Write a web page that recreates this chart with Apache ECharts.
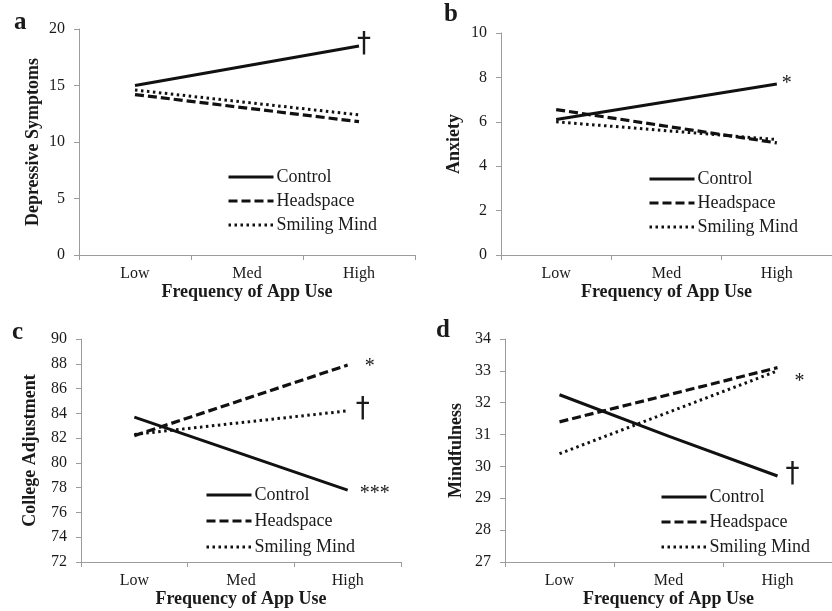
<!DOCTYPE html>
<html>
<head>
<meta charset="utf-8">
<script src="https://cdn.jsdelivr.net/npm/echarts@6/dist/echarts.min.js"></script>
<style>
  html, body { margin: 0; padding: 0; background: #fff; }
  #chart { width: 832px; height: 611px; }
</style>
</head>
<body>
<div id="chart"></div>
<script>
// ---------- data ----------
const categories = ['Low', 'Med', 'High'];
const seriesNames = ['Control', 'Headspace', 'Smiling Mind'];

const panelLetters = ['a', 'b', 'c', 'd'];
const yTitles = ['Depressive Symptoms', 'Anxiety', 'College Adjustment', 'Mindfulness'];
const xTitle = 'Frequency of App Use';

// y-axis ranges [min, max, interval]
const yRangeA = [0, 20, 5];
const yRangeB = [0, 10, 2];
const yRangeC = [72, 90, 2];
const yRangeD = [27, 34, 1];

// values: Control, Headspace, Smiling Mind (Low, Med, High)
const controlA = [15.0, 16.75, 18.5];
const headspaceA = [14.2, 13.0, 11.8];
const smilingA = [14.6, 13.5, 12.4];

const controlB = [6.1, 6.9, 7.7];
const headspaceB = [6.55, 5.8, 5.05];
const smilingB = [6.0, 5.6, 5.2];

const controlC = [83.7, 80.75, 77.8];
const headspaceC = [82.2, 85.05, 87.9];
const smilingC = [82.3, 83.25, 84.2];

const controlD = [32.25, 30.95, 29.7];
const headspaceD = [31.4, 32.25, 33.1];
const smilingD = [30.4, 31.7, 33.0];

// significance marks at the High end (Control, Headspace, Smiling Mind)
const notesA = ['†', '', ''];
const notesB = ['*', '', ''];
const notesC = ['***', '*', '†'];
const notesD = ['†', '', '*'];

// ---------- layout / style ----------
const FONT = '"Liberation Serif", "Times New Roman", serif';
const INK = '#1a1a1a';
const AXIS = '#9c9c9c';

const DAG = { size: 28, weight: 'normal', font: '"DejaVu Sans", sans-serif' };
const panels = [
  { grid: { left: 79, top: 29, width: 336, height: 226 }, range: yRangeA, data: [controlA, headspaceA, smilingA], notes: notesA,
    nameGapY: 37, letter: { left: 14, top: 10 }, legend: { left: 227, top: 168, gap: 6 },
    noteStyle: [Object.assign({ offset: [-2, -1] }, DAG), {}, {}] },
  { grid: { left: 501, top: 33, width: 338, height: 222 }, range: yRangeB, data: [controlB, headspaceB, smilingB], notes: notesB,
    nameGapY: 38, letter: { left: 444, top: 2 }, legend: { left: 648, top: 170, gap: 6 },
    noteStyle: [{ offset: [5, 0], size: 20 }, {}, {}] },
  { grid: { left: 81, top: 339, width: 320, height: 223 }, range: yRangeC, data: [controlC, headspaceC, smilingC], notes: notesC,
    nameGapY: 42, letter: { left: 12, top: 320 }, legend: { left: 205, top: 486, gap: 8 },
    noteStyle: [{ offset: [12, 4], size: 20 }, { offset: [17, 2], size: 20 }, Object.assign({ offset: [8, -1] }, DAG)] },
  { grid: { left: 505, top: 339, width: 340, height: 223 }, range: yRangeD, data: [controlD, headspaceD, smilingD], notes: notesD,
    nameGapY: 40, letter: { left: 436, top: 318 }, legend: { left: 660, top: 488, gap: 7 },
    noteStyle: [Object.assign({ offset: [8, -1] }, DAG), {}, { offset: [17, 11], size: 20 }] }
];

const lineStyles = [
  { type: 'solid', width: 3 },
  { type: [9, 4], width: 3.2 },
  { type: [2.5, 3.5], width: 3 }
];

const grids = [], xAxes = [], yAxes = [], series = [], titles = [], legends = [];

panels.forEach((p, i) => {
  grids.push(Object.assign({ containLabel: false }, p.grid));
  xAxes.push({
    type: 'category', gridIndex: i, data: categories, boundaryGap: true,
    axisLine: { lineStyle: { color: AXIS, width: 1 } },
    axisTick: { show: true, length: 5, lineStyle: { color: AXIS } },
    axisLabel: { color: INK, fontFamily: FONT, fontSize: 16, margin: 11 },
    name: xTitle, nameLocation: 'middle', nameGap: 28,
    nameTextStyle: { color: INK, fontFamily: FONT, fontSize: 18, fontWeight: 'bold' },
    splitLine: { show: false }
  });
  yAxes.push({
    type: 'value', gridIndex: i, min: p.range[0], max: p.range[1], interval: p.range[2],
    axisLine: { show: true, lineStyle: { color: AXIS, width: 1 } },
    axisTick: { show: true, length: 5, lineStyle: { color: AXIS } },
    axisLabel: { color: INK, fontFamily: FONT, fontSize: 16, margin: 14 },
    splitLine: { show: false },
    name: yTitles[i], nameLocation: 'middle', nameGap: p.nameGapY,
    nameTextStyle: { color: INK, fontFamily: FONT, fontSize: 18, fontWeight: 'bold' }
  });
  titles.push({
    text: panelLetters[i], left: p.letter.left, top: p.letter.top, padding: 0,
    textStyle: { color: INK, fontFamily: FONT, fontSize: 25, fontWeight: 'bold' }
  });
  legends.push({
    data: seriesNames, orient: 'vertical', left: p.legend.left, top: p.legend.top,
    padding: 0, itemGap: p.legend.gap, itemWidth: 45, itemHeight: 18,
    selectedMode: false,
    itemStyle: { opacity: 0, borderWidth: 0 },
    lineStyle: { width: 3 },
    textStyle: { color: INK, fontFamily: FONT, fontSize: 18, padding: [0, 0, 0, -2] }
  });
  seriesNames.forEach((name, s) => {
    const vals = p.data[s];
    const note = p.notes[s];
    const ns = p.noteStyle[s] || {};
    series.push({
      name: name, type: 'line', xAxisIndex: i, yAxisIndex: i,
      data: vals, symbol: 'none', showSymbol: false, silent: true,
      lineStyle: Object.assign({ color: '#111' }, lineStyles[s]),
      itemStyle: { color: '#111' },
      endLabel: {
        show: !!note, formatter: note, distance: 0,
        offset: ns.offset || [4, 0],
        color: INK, fontFamily: ns.font || FONT, fontSize: ns.size || 20,
        fontWeight: ns.weight || 'normal'
      },
      animation: false
    });
  });
});

const chart = echarts.init(document.getElementById('chart'), null, { renderer: 'canvas' });
chart.setOption({
  backgroundColor: '#fff',
  animation: false,
  title: titles,
  legend: legends,
  grid: grids,
  xAxis: xAxes,
  yAxis: yAxes,
  series: series
});
</script>
</body>
</html>
